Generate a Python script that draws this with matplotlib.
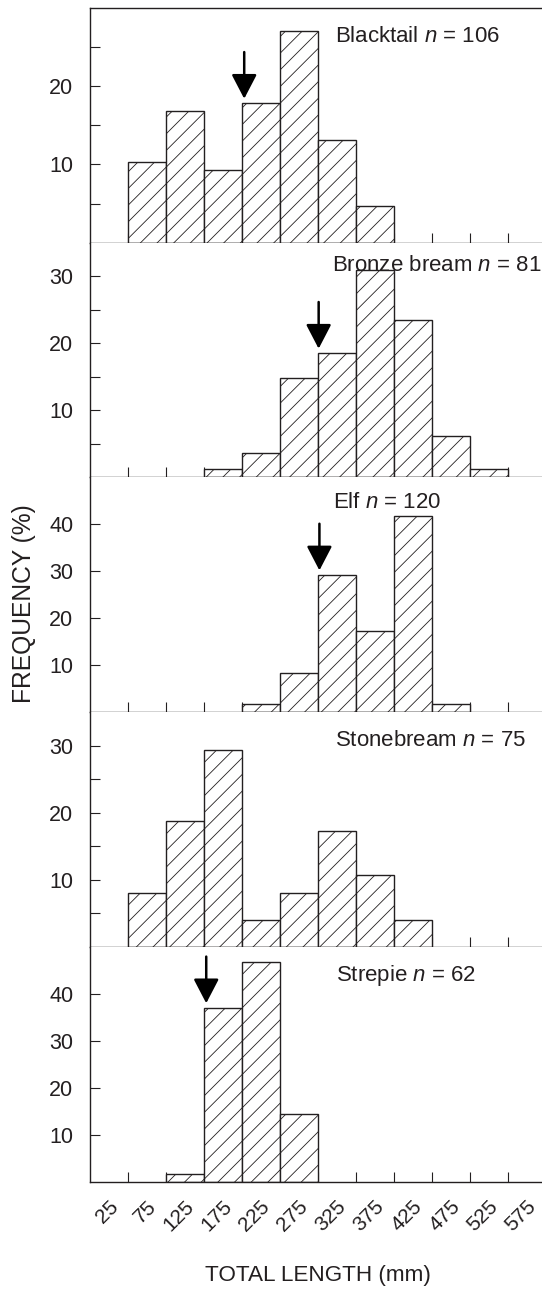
import matplotlib
matplotlib.use("Agg")
import matplotlib.pyplot as plt
import matplotlib.transforms as mtransforms
import numpy as np

plt.rcParams['font.family'] = ['Liberation Sans', 'DejaVu Sans']
plt.rcParams['mathtext.fontset'] = 'custom'
plt.rcParams['mathtext.rm'] = 'Liberation Sans'
plt.rcParams['mathtext.it'] = 'Liberation Sans:italic'
plt.rcParams['hatch.linewidth'] = 0.6

# ---- data ----
bin_centers = [25, 75, 125, 175, 225, 275, 325, 375, 425, 475, 525, 575]
species = ["Blacktail", "Bronze bream", "Elf", "Stonebream", "Strepie"]
sample_n = [106, 81, 120, 75, 62]
blacktail = [0, 10.3, 16.8, 9.3, 17.8, 27.0, 13.1, 4.7, 0, 0, 0, 0]
bronze_bream = [0, 0, 0, 1.2, 3.7, 14.8, 18.5, 30.9, 23.5, 6.2, 1.2, 0]
elf = [0, 0, 0, 0, 1.7, 8.3, 29.2, 17.4, 41.8, 1.7, 0, 0]
stonebream = [0, 8.0, 18.8, 29.4, 4.0, 8.0, 17.3, 10.7, 4.0, 0, 0, 0]
strepie = [0, 0, 1.6, 37.0, 46.8, 14.4, 0, 0, 0, 0, 0, 0]
series = [blacktail, bronze_bream, elf, stonebream, strepie]
# arrow (length marker) positions in mm, None = no arrow
arrow_mm = [203, 301, 302, None, 153]

# ---- axis config ----
ymax = [30, 35, 50, 35, 50]
ytick_step = [5, 5, 10, 5, 10]
ylabel_step = [10, 10, 10, 10, 10]
text_x = [323, 319, 320, 323, 324]
text_y = [0.880, 0.903, 0.892, 0.880, 0.878]

ink = '#231f20'
fig = plt.figure(figsize=(5.42, 12.89), dpi=100)
gs = fig.add_gridspec(5, 1, left=90/542, right=1.0, top=1-8/1289,
                      bottom=1-1181.7/1289, hspace=0)

centers = np.array(bin_centers, dtype=float)
binw = centers[1] - centers[0]
edges = centers - binw / 2

for i in range(5):
    ax = fig.add_subplot(gs[i])
    vals = np.array(series[i])
    m = vals > 0
    ax.bar(centers[m], vals[m], width=binw, facecolor='white',
           edgecolor=ink, linewidth=1.0, hatch='//', zorder=2)
    ax.set_xlim(0, 595)
    ax.set_ylim(0, ymax[i])
    yt = np.arange(ytick_step[i], ymax[i], ytick_step[i])
    ax.set_yticks(yt)
    ax.set_yticklabels([str(int(v)) if v % ylabel_step[i] == 0 else '' for v in yt])
    ax.set_xticks(edges[1:])
    ax.set_xticklabels([])
    ax.set_xticks(centers, minor=True)
    ax.tick_params(axis='both', which='major', direction='in', length=7.2,
                   width=0.8, color=ink, labelsize=15.5, labelcolor=ink)
    ax.tick_params(axis='y', which='major', pad=12)
    ax.tick_params(axis='x', which='minor', length=0, pad=16,
                   labelsize=15, labelcolor=ink)
    if i == 4:
        labs = ax.set_xticklabels([str(c) for c in bin_centers], minor=True,
                                  rotation=45, ha='right', va='center',
                                  rotation_mode='anchor')
        off = mtransforms.ScaledTranslation(6/100, 0, fig.dpi_scale_trans)
        for lab in labs:
            lab.set_transform(lab.get_transform() + off)
    else:
        ax.set_xticklabels([], minor=True)
    for s in ['left', 'bottom', 'top']:
        ax.spines[s].set_color(ink)
        ax.spines[s].set_linewidth(1.0)
    ax.spines['right'].set_visible(False)
    if i > 0:
        ax.spines['top'].set_visible(False)

    ax.text(text_x[i], text_y[i], rf"{species[i]} $n$ = {sample_n[i]}",
            transform=ax.get_xaxis_transform(), ha='left', va='center',
            fontsize=16, color=ink, zorder=5)

    if arrow_mm[i] is not None:
        k = int(np.argmin(np.abs(centers - arrow_mm[i])))
        top = vals[k]
        ax.annotate('', xy=(arrow_mm[i], top), xytext=(0, 37),
                    textcoords='offset points',
                    arrowprops=dict(arrowstyle='-|>,head_length=1.5,head_width=0.78',
                                    mutation_scale=10, lw=1.8, color='black',
                                    shrinkA=0, shrinkB=3.4),
                    zorder=6)

fig.text(23.7/542, 1-604/1289, "FREQUENCY (%)", rotation=90, ha='center',
         va='center', fontsize=17.7, color=ink)
fig.text(318/542, 1-1275/1289, "TOTAL LENGTH (mm)", ha='center', va='center',
         fontsize=16.2, color=ink)

fig.savefig("out.png", dpi=100)
